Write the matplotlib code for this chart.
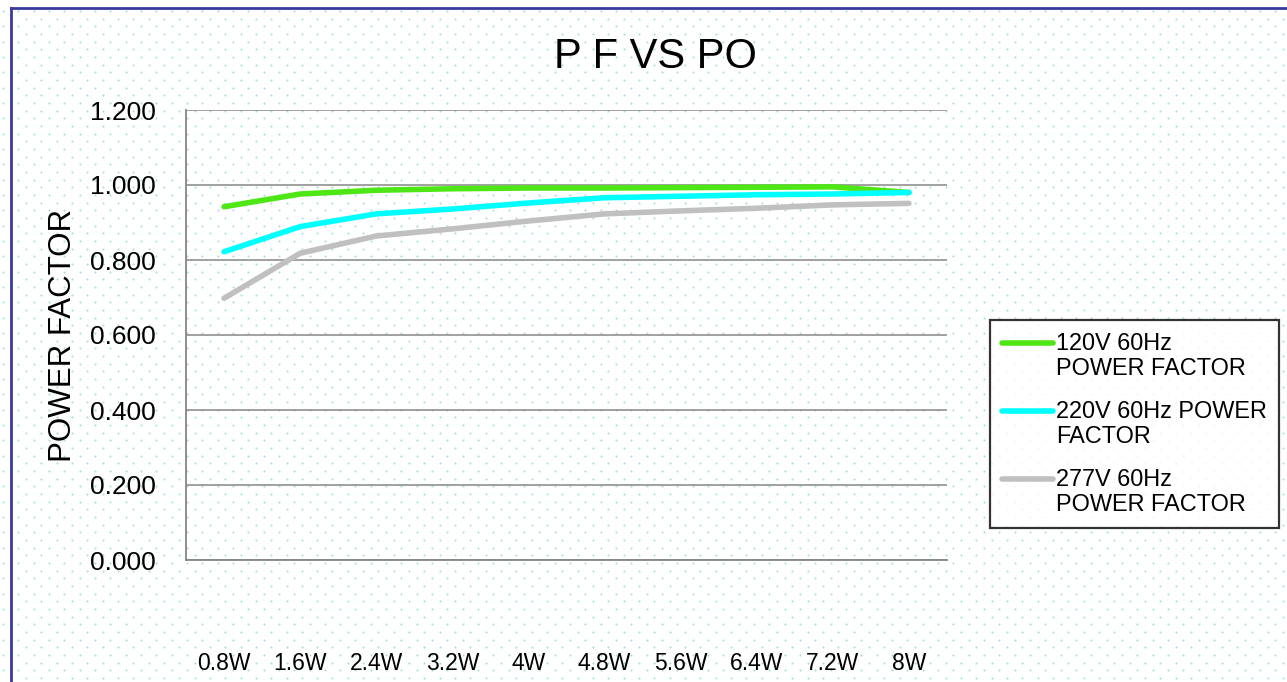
import numpy as np
import matplotlib
matplotlib.use("Agg")
import matplotlib.pyplot as plt
from matplotlib.legend_handler import HandlerLine2D

### Data ###
categories = ['0.8W', '1.6W', '2.4W', '3.2W', '4W', '4.8W', '5.6W', '6.4W', '7.2W', '8W']
pf_120v = [0.942, 0.976, 0.986, 0.990, 0.992, 0.992, 0.993, 0.994, 0.995, 0.980]
pf_220v = [0.822, 0.889, 0.923, 0.936, 0.952, 0.966, 0.970, 0.974, 0.976, 0.980]
pf_277v = [0.698, 0.818, 0.864, 0.883, 0.904, 0.923, 0.931, 0.938, 0.947, 0.951]
series_names = ['120V 60Hz\nPOWER FACTOR', '220V 60Hz POWER\nFACTOR', '277V 60Hz\nPOWER FACTOR']
series_colors = ['#4fe616', '#00ffff', '#c0c0c0']
y_ticks = [0.0, 0.2, 0.4, 0.6, 0.8, 1.0, 1.2]

plt.rcParams['font.family'] = ['Liberation Sans', 'DejaVu Sans']

W, H = 1287, 682
fig = plt.figure(figsize=(W / 100, H / 100), dpi=100)
fig.patch.set_facecolor('white')

### Background: dotted pattern and the blue chart border ###
bg = fig.add_axes([0, 0, 1, 1], zorder=-1)
bg.set_xlim(0, W)
bg.set_ylim(H, 0)
bg.axis('off')
step = 15.33
rows = np.arange(11, H + 8, step / 2)
dx, dy = [], []
for j, yy in enumerate(rows):
    off = 2.9 + (step / 2 if j % 2 else 0)
    xs = np.arange(off, W + 8, step)
    dx.extend(xs)
    dy.extend([yy] * len(xs))
bg.scatter(dx, dy, s=2.2, color='#a9dbe4', linewidths=0)
bg.plot([11.2, 11.2], [H + 5, 8.3], color='#3a3a9e', lw=2.0, solid_capstyle='projecting')
bg.plot([11.2, W + 5], [8.3, 8.3], color='#3a3a9e', lw=2.0, solid_capstyle='projecting')

### Main plot area ###
ax = fig.add_axes([186 / W, 1 - 560 / H, (947 - 186) / W, (560 - 110) / H])
ax.set_facecolor('none')
x = np.arange(len(categories))
for vals, name, col in zip([pf_120v, pf_220v, pf_277v], series_names, series_colors):
    ax.plot(x, vals, color=col, lw=4.0, label=name, solid_capstyle='round', zorder=3)

ax.set_xlim(-0.5, len(categories) - 0.5)
ax.set_ylim(0, 1.2)
ax.set_yticks(y_ticks)
ax.set_yticklabels(['%.3f' % v for v in y_ticks])
ax.set_xticks(x)
ax.set_xticklabels(categories)
ax.tick_params(axis='y', length=0, pad=22, labelsize=19)
ax.tick_params(axis='x', length=0, pad=66, labelsize=16.5)
ax.grid(axis='y', color='#868686', lw=1.1)
ax.set_axisbelow(True)
for s in ['top', 'right']:
    ax.spines[s].set_visible(False)
for s in ['left', 'bottom']:
    ax.spines[s].set_color('#868686')
    ax.spines[s].set_linewidth(1.3)

fig.text(655 / W, 1 - 68.5 / H, 'P F VS PO', fontsize=30, ha='center', va='baseline')
fig.text(63 / W, 1 - 335 / H, 'POWER FACTOR', fontsize=22.5, rotation=90,
         ha='center', va='center')


### Legend handles sit on the first line of each label ###
class TopLine(HandlerLine2D):
    def create_artists(self, legend, orig_handle, xdescent, ydescent, width,
                       height, fontsize, trans):
        arts = super().create_artists(legend, orig_handle, xdescent, ydescent,
                                      width, height, fontsize, trans)
        for a in arts:
            a.set_ydata(np.asarray(a.get_ydata()) + 0.58 * fontsize)
        return arts


leg = ax.legend(loc='upper left', bbox_to_anchor=(990 / W, 1 - 320 / H),
                bbox_transform=fig.transFigure, fontsize=16.9, frameon=True,
                fancybox=False, borderaxespad=0, handlelength=2.2,
                handletextpad=0.12, labelspacing=0.85, borderpad=0.5,
                handler_map={plt.Line2D: TopLine()})
leg.get_frame().set_edgecolor('black')
leg.get_frame().set_linewidth(1.6)
for t in leg.get_texts():
    t.set_linespacing(1.12)

fig.savefig('out.png', dpi=100)
